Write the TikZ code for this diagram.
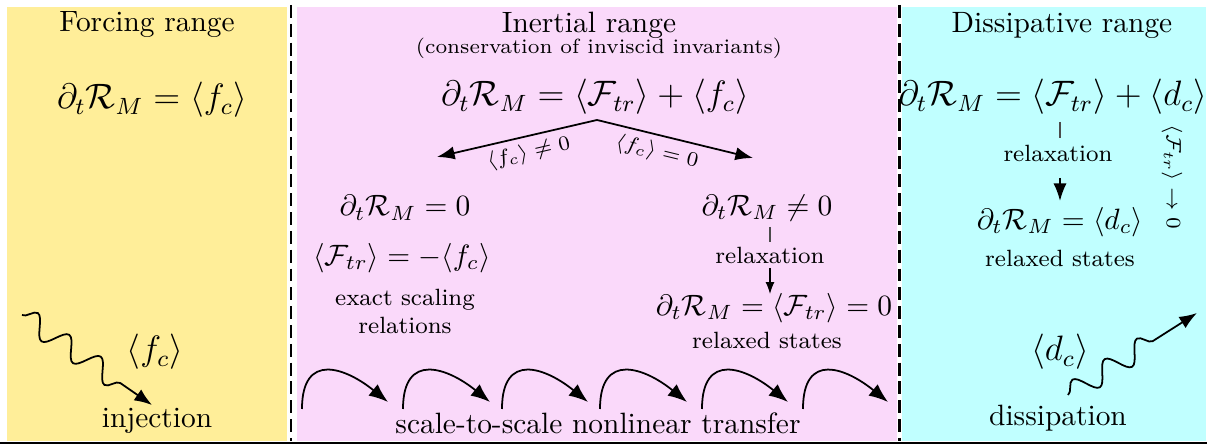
\documentclass[tikz,border=0pt]{standalone}
\usetikzlibrary{arrows.meta,decorations.pathmorphing}
\definecolor{fyellow}{RGB}{255,238,153}
\definecolor{ipink}{RGB}{250,217,250}
\definecolor{dcyan}{RGB}{192,255,255}
\begin{document}
\begin{tikzpicture}[x=0.34pt,y=-0.34pt,
  arr/.style={semithick,-{Latex[length=6pt,width=4.5pt]}},
  smallarr/.style={thin,-{Latex[length=4pt,width=3pt]}},
  arcarr/.style={semithick,-{Latex[length=6.5pt,width=5pt]}},
  wave/.style={semithick,-{Latex[length=6pt,width=4.5pt]},decorate,
    decoration={snake,amplitude=3.6pt,segment length=13pt,post length=13pt}},
  sep/.style={line width=0.7pt,dash pattern=on 4.4pt off 2pt},
  tick/.style={thin,black!70}]
\useasboundingbox (0,0) rectangle (1211,444);
% backgrounds
\fill[fyellow] (7,7) rectangle (287,441);
\fill[ipink] (297,7) rectangle (897,441);
\fill[dcyan] (902,7) rectangle (1206,441);
\draw[sep] (291,5) -- (291,441);
\draw[sep] (899.5,5) -- (899.5,441);
\draw[line width=0.6pt] (0,443) -- (1207,443);

% Forcing range
\node (ftitle) at (147,25) {Forcing range};
\node (feq) at (152,100) {\large $\partial_t\mathcal{R}_M=\langle f_c\rangle$};
\node (ffc) at (155,352) {\large $\langle f_c\rangle$};
\node (finj) at (157,421) {injection};
\coordinate (fs) at (22,315);
\coordinate (fe) at (152,405);
\draw[wave] (fs) -- (fe);

% Inertial range
\node (ititle) at (589,25) {Inertial range};
\node (isub) at (599,48) {\scriptsize (conservation of inviscid invariants)};
\node (ieq) at (595,97) {\large $\partial_t\mathcal{R}_M=\langle\mathcal{F}_{tr}\rangle+\langle f_c\rangle$};
\coordinate (apex) at (597,120);
\coordinate (ltip) at (437,157);
\coordinate (rtip) at (753,158);
\draw[arr] (apex) -- node[below,sloped,pos=0.45,inner sep=2pt] {\scriptsize $\langle f_c\rangle\neq0$} (ltip);
\draw[arr] (apex) -- node[below,sloped,pos=0.41,inner sep=2pt] {\scriptsize $\langle f_c\rangle=0$} (rtip);

\node (l1) at (405,208) {$\partial_t\mathcal{R}_M=0$};
\node (l2) at (402,258) {$\langle\mathcal{F}_{tr}\rangle=-\langle f_c\rangle$};
\node[align=center,font=\footnotesize] (l3) at (405,311) {exact scaling\\relations};

\node (r1) at (767,208) {$\partial_t\mathcal{R}_M\neq0$};
\node[font=\footnotesize] (r2) at (770,255) {relaxation};
\node (r3) at (774,308) {$\partial_t\mathcal{R}_M=\langle\mathcal{F}_{tr}\rangle=0$};
\node[font=\footnotesize] (r4) at (767,340) {relaxed states};
\coordinate (rt1) at (770,227);
\coordinate (rt2) at (770,242);
\coordinate (ra1) at (770,268);
\coordinate (ra2) at (770,294);
\draw[tick] (rt1) -- (rt2);
\draw[smallarr] (ra1) -- (ra2);

% cascade arcs
\foreach \s/\t [count=\i] in {302/388,403/490,502/588,600/687,702/788,803/888}{
  \coordinate (as\i) at (\s,409);
  \coordinate (at\i) at (\t,402);
  \draw[arcarr] (as\i) .. controls +(0,-58) and +(-42,-34) .. (at\i);
}
\node (itr) at (598,423) {scale-to-scale nonlinear transfer};

% Dissipative range
\node (dtitle) at (1062,25) {Dissipative range};
\node (deq) at (1053,97) {\large $\partial_t\mathcal{R}_M=\langle\mathcal{F}_{tr}\rangle+\langle d_c\rangle$};
\coordinate (dt1) at (1060,122);
\coordinate (dt2) at (1060,138);
\draw[tick] (dt1) -- (dt2);
\node[font=\footnotesize] (drel) at (1058,153) {relaxation};
\coordinate (da1) at (1060,178);
\coordinate (da2) at (1060,201);
\draw[arr] (da1) -- (da2);
\node (deq2) at (1060,222) {$\partial_t\mathcal{R}_M=\langle d_c\rangle$};
\node[font=\footnotesize] (drs) at (1060,258) {relaxed states};
\node[rotate=-90] (dlim) at (1172,177) {\scriptsize $\langle\mathcal{F}_{tr}\rangle\to0$};
\node (ddc) at (1060,352) {\large $\langle d_c\rangle$};
\node (ddis) at (1058,418) {dissipation};
\coordinate (ds) at (1068,395);
\coordinate (de) at (1197,313);
\draw[wave] (ds) -- (de);
\end{tikzpicture}
\end{document}
